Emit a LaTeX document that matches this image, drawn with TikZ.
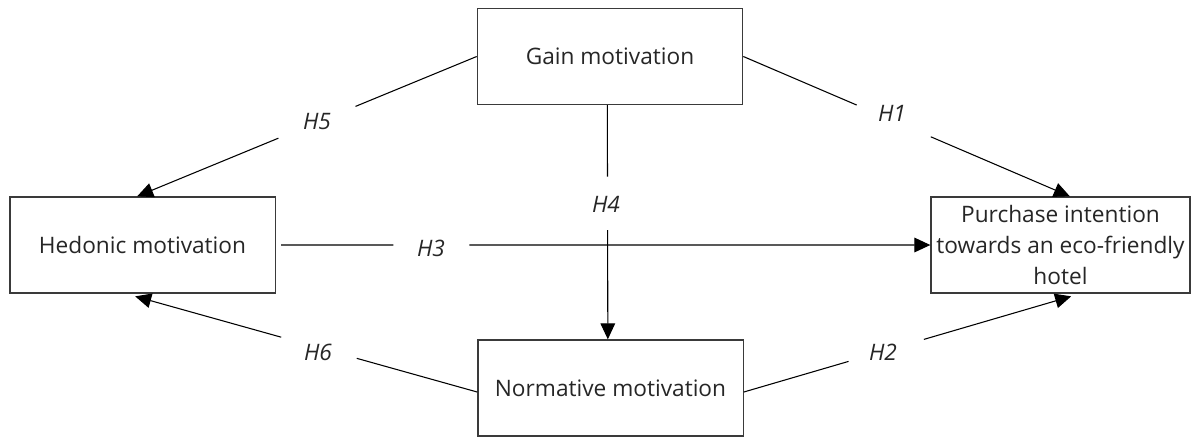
\documentclass[tikz,border=0pt]{standalone}
\usepackage{fontspec}
\setmainfont{Open Sans}
\usetikzlibrary{calc,arrows.meta}
\definecolor{txt}{HTML}{262626}
\definecolor{bord}{HTML}{3A3A3A}
\begin{document}
\begin{tikzpicture}[x=0.75pt,y=-0.75pt,
  box/.style={draw=bord,line width=1pt,fill=white,minimum width=199pt,minimum height=72pt,
    inner sep=0pt,align=center,text=txt,font=\fontsize{17}{23.5}\selectfont},
  hyp/.style={text=txt,font=\fontsize{17}{20}\selectfont\itshape,inner sep=0pt},
  conn/.style={line width=0.8pt,black},
  arr/.style={conn,-{Triangle[length=12pt,width=11pt]}}]
\useasboundingbox (0,0) rectangle (1195,437);
\node[box] (gain) at (610,56.5) {Gain motivation};
\node[box] (hed) at (142.5,245) {Hedonic motivation};
\node[box,minimum width=194.25pt] (pur) at (1060.5,245) {Purchase intention\\towards an eco-friendly\\hotel};
\node[box] (norm) at (610.5,388) {Normative motivation};
% endpoints
\coordinate (h5a) at (gain.west);
\coordinate (h5b) at ([xshift=-4pt]hed.north);
\coordinate (h1a) at (gain.east);
\coordinate (h1b) at ([xshift=7pt]pur.north);
\coordinate (h6a) at ([yshift=-3pt]norm.west);
\coordinate (h6b) at ([xshift=-5.5pt,yshift=-2pt]hed.south);
\coordinate (h2a) at ([yshift=-3pt]norm.east);
\coordinate (h2b) at ([xshift=8pt,yshift=-2pt]pur.south);
\coordinate (h3a) at ([xshift=4pt]hed.east);
\coordinate (h3b) at (pur.west);
\coordinate (h4a) at ([xshift=-2pt]gain.south);
\coordinate (h4b) at ([xshift=-2pt]norm.north);
% labels
\node[hyp] (l5) at (317,122) {H5};
\node[hyp] (l1) at (892,113) {H1};
\node[hyp] (l6) at (318,352) {H6};
\node[hyp] (l2) at (883,352) {H2};
\node[hyp] (l3) at (431,248) {H3};
\node[hyp] (l4) at (606,204) {H4};
% connectors
\draw[conn] (h5a) -- ($(h5a)!0.357!(h5b)$);
\draw[arr] ($(h5a)!0.584!(h5b)$) -- (h5b);
\draw[conn] (h1a) -- ($(h1a)!0.347!(h1b)$);
\draw[arr] ($(h1a)!0.574!(h1b)$) -- (h1b);
\draw[conn] (h6a) -- ($(h6a)!0.352!(h6b)$);
\draw[arr] ($(h6a)!0.573!(h6b)$) -- (h6b);
\draw[conn] (h2a) -- ($(h2a)!0.32!(h2b)$);
\draw[arr] ($(h2a)!0.55!(h2b)$) -- (h2b);
\draw[conn] (h3a) -- ($(h3a)!0.173!(h3b)$);
\draw[arr] ($(h3a)!0.29!(h3b)$) -- (h3b);
\draw[conn] (h4a) -- ($(h4a)!0.305!(h4b)$);
\draw[arr] ($(h4a)!0.534!(h4b)$) -- (h4b);
\end{tikzpicture}
\end{document}
